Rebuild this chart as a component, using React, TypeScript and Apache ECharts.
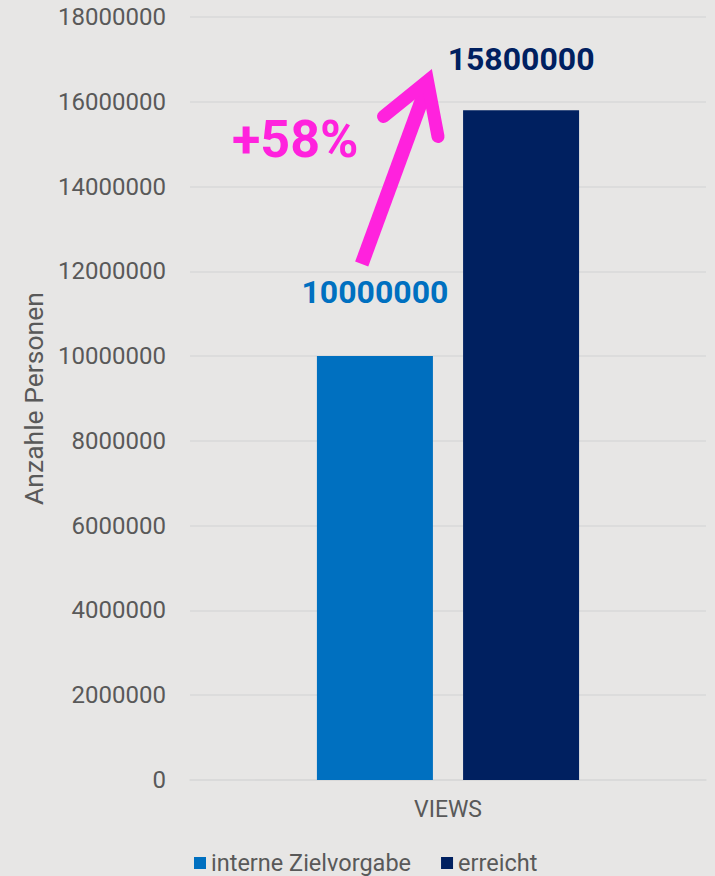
import React, { useEffect, useRef } from "react";
import * as echarts from "echarts";

const categories = ["VIEWS"];
const seriesNames = ["interne Zielvorgabe", "erreicht"];
const targetValues = [10000000];
const achievedValues = [15800000];
const yTicks = { min: 0, max: 18000000, interval: 2000000 };
const yAxisName = "Anzahle Personen";
const changeLabel = "+58%";

const BG = "#E7E6E5";
const C1 = "#0070C0";
const C2 = "#002060";
const MAGENTA = "#FF22DD";
const TXT = "#595959";
const FONT = "Roboto";

export default function App() {
  const ref = useRef<HTMLDivElement>(null);
  useEffect(() => {
    if (!ref.current) return;
    const chart = echarts.init(ref.current, null, { renderer: "svg" });
    chart.setOption({
      animation: false,
      backgroundColor: BG,
      textStyle: { fontFamily: FONT },
      grid: { left: 190, right: 9, top: 17, bottom: 96, containLabel: false },
      legend: {
        left: 189,
        top: 846,
        itemWidth: 12,
        itemHeight: 12,
        itemGap: 30,
        icon: "rect",
        textStyle: { color: TXT, fontSize: 23.5, fontFamily: FONT },
        data: seriesNames,
      },
      xAxis: {
        type: "category",
        data: categories,
        axisLine: { show: true, lineStyle: { color: "#D9D9D9", width: 1.5 } },
        axisTick: { show: false },
        axisLabel: { color: TXT, fontSize: 23, fontFamily: FONT, margin: 18 },
      },
      yAxis: {
        type: "value",
        min: yTicks.min,
        max: yTicks.max,
        interval: yTicks.interval,
        name: yAxisName,
        nameLocation: "middle",
        nameRotate: 90,
        nameGap: 128,
        nameTextStyle: { color: TXT, fontSize: 26.5, fontFamily: FONT },
        axisLine: { show: false },
        axisTick: { show: false },
        axisLabel: {
          color: TXT,
          fontSize: 24,
          fontFamily: FONT,
          margin: 24,
          formatter: (v: number) => String(v),
        },
        splitLine: { lineStyle: { color: "#D9D9D9", width: 1.5 } },
      },
      series: [
        {
          name: seriesNames[0],
          type: "bar",
          data: targetValues,
          barWidth: 116,
          barGap: "26%",
          itemStyle: { color: C1 },
          label: {
            show: true,
            position: "top",
            distance: 48,
            color: C1,
            fontSize: 32,
            fontWeight: "bold",
            fontFamily: FONT,
          },
        },
        {
          name: seriesNames[1],
          type: "bar",
          data: achievedValues,
          barWidth: 116,
          itemStyle: { color: C2 },
          label: {
            show: true,
            position: "top",
            distance: 35,
            color: C2,
            fontSize: 32,
            fontWeight: "bold",
            fontFamily: FONT,
          },
        },
      ],
      graphic: [
        {
          type: "line",
          shape: { x1: 361.7, y1: 264, x2: 427, y2: 86 },
          style: { stroke: MAGENTA, lineWidth: 14, lineCap: "butt" },
          z: 100,
        },
        {
          type: "polyline",
          shape: { points: [[383.5, 116.5], [427.5, 81], [438, 136.5]] },
          style: {
            stroke: MAGENTA,
            fill: null,
            lineWidth: 13,
            lineCap: "round",
            lineJoin: "miter",
            miterLimit: 10,
          },
          z: 100,
        },
        {
          type: "text",
          x: 232,
          y: 139,
          style: {
            text: changeLabel,
            fill: MAGENTA,
            fontSize: 52,
            fontWeight: "bold",
            fontFamily: FONT,
            align: "left",
            verticalAlign: "middle",
          },
          z: 100,
        },
      ],
    });
    return () => chart.dispose();
  }, []);
  return (
    <div
      ref={ref}
      style={{ position: "fixed", left: 0, top: 0, width: 715, height: 876 }}
    />
  );
}
